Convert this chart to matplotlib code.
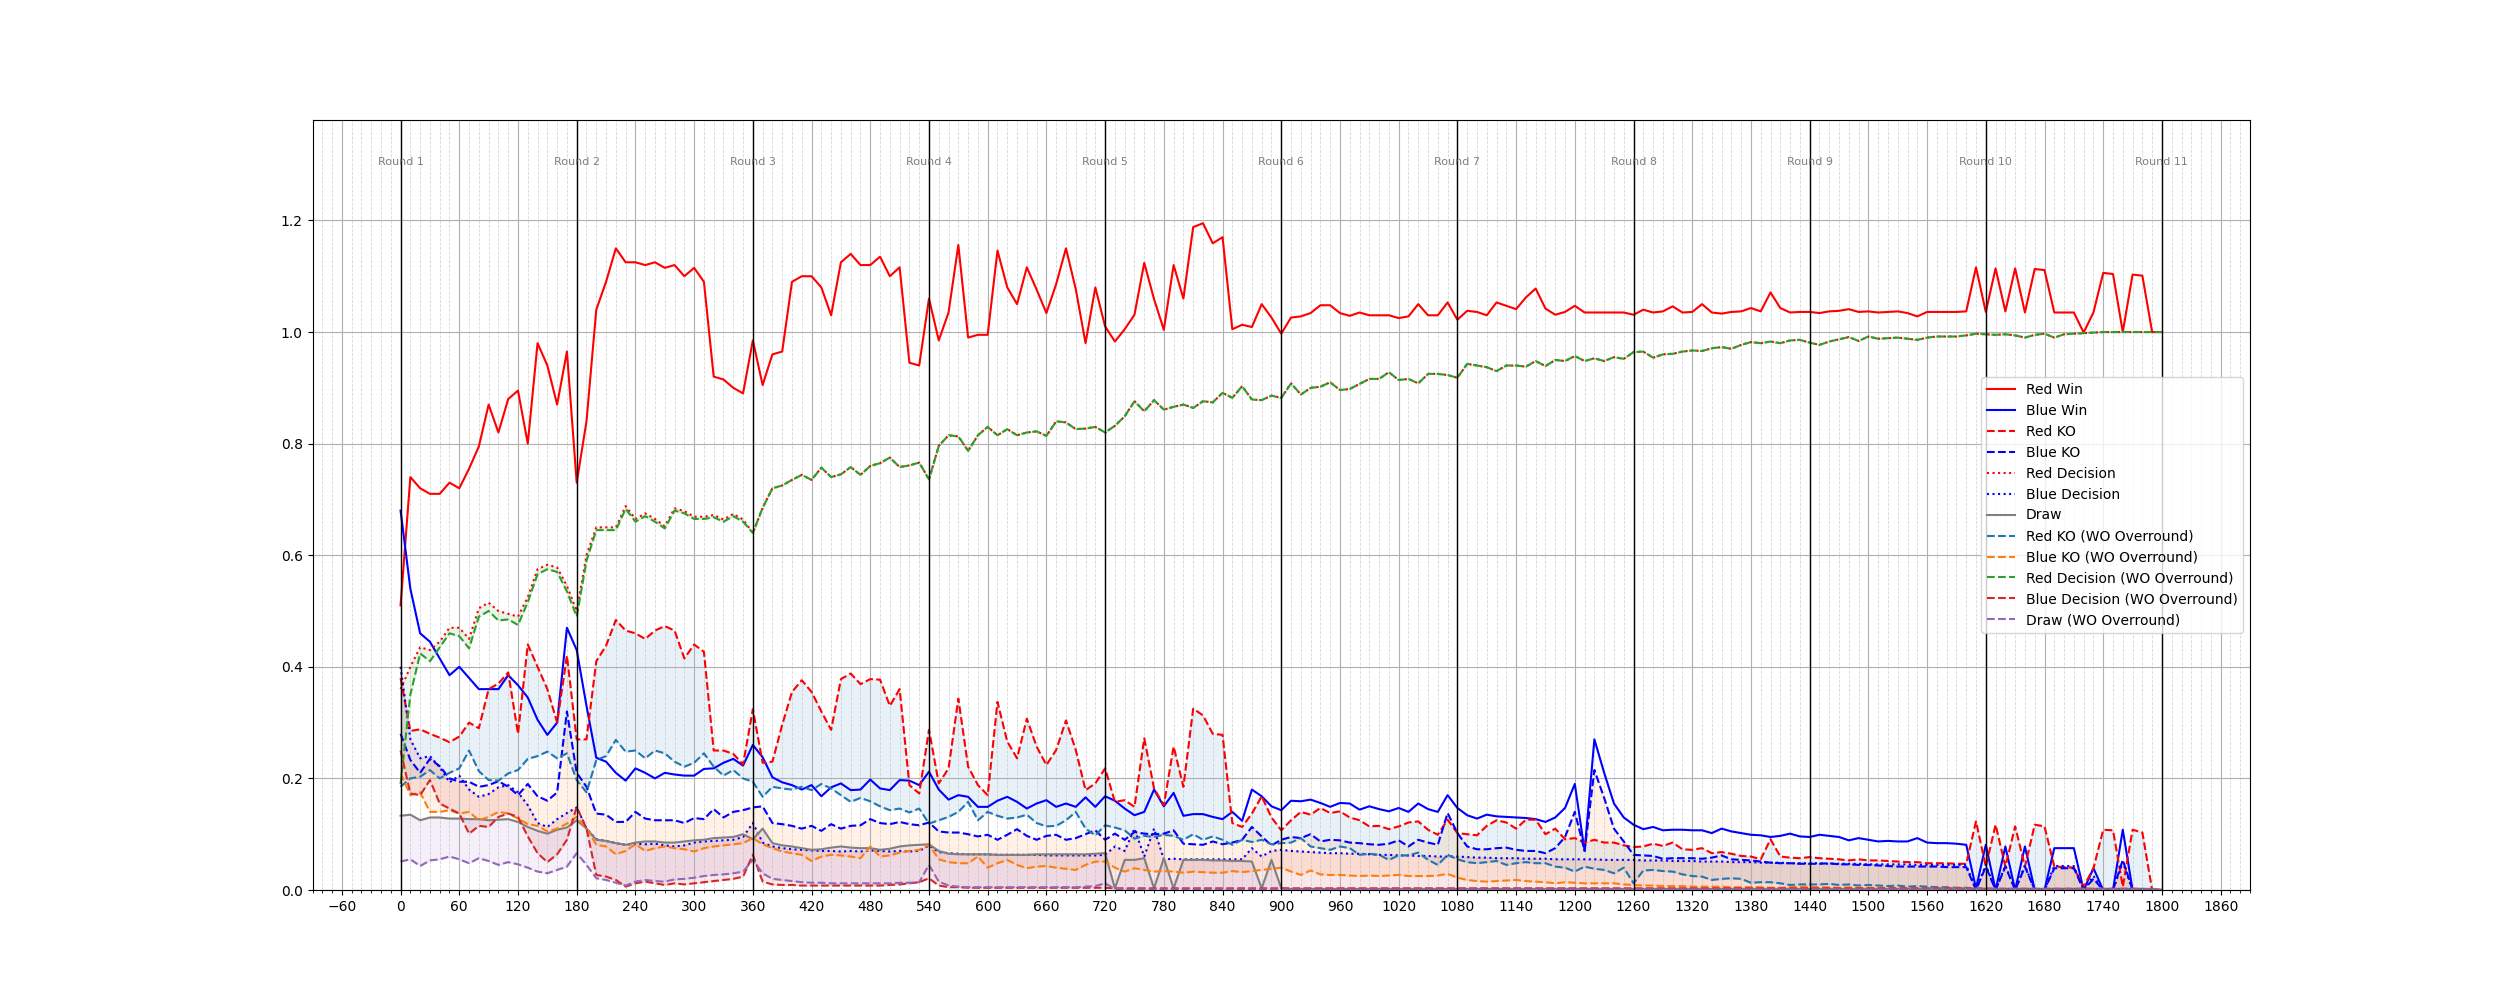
import numpy as np
import matplotlib
matplotlib.use("Agg")
import matplotlib.pyplot as plt
from matplotlib.ticker import MultipleLocator

# time axis (seconds), one sample every 10 s, 11 rounds of 180 s
seconds = np.arange(0, 1801, 10)
round_starts = [0, 180, 360, 540, 720, 900, 1080, 1260, 1440, 1620, 1800]

# implied probabilities (one row per round, 18 samples each, last value = 1800 s)
red_win = [
    0.51, 0.74, 0.72, 0.71, 0.71, 0.73, 0.72, 0.755, 0.795, 0.87, 0.82, 0.88, 0.895, 0.80, 0.98, 0.94, 0.87, 0.965,
    0.73, 0.84, 1.04, 1.09, 1.15, 1.125, 1.125, 1.12, 1.125, 1.115, 1.12, 1.10, 1.115, 1.09, 0.92, 0.915, 0.90, 0.89,
    0.985, 0.905, 0.96, 0.965, 1.09, 1.10, 1.10, 1.08, 1.03, 1.125, 1.14, 1.12, 1.12, 1.135, 1.10, 1.116, 0.945, 0.94,
    1.06, 0.985, 1.035, 1.156, 0.99, 0.995, 0.995, 1.146, 1.08, 1.05, 1.116, 1.076, 1.034, 1.086, 1.15, 1.077, 0.98, 1.08,
    1.01, 0.983, 1.005, 1.031, 1.124, 1.059, 1.004, 1.12, 1.06, 1.188, 1.195, 1.159, 1.17, 1.005, 1.013, 1.009, 1.05, 1.026,
    0.997, 1.026, 1.028, 1.034, 1.048, 1.048, 1.034, 1.029, 1.035, 1.03, 1.03, 1.03, 1.025, 1.028, 1.05, 1.03, 1.03, 1.053,
    1.022, 1.038, 1.036, 1.03, 1.053, 1.047, 1.041, 1.062, 1.078, 1.042, 1.031, 1.036, 1.047, 1.035, 1.035, 1.035, 1.035, 1.035,
    1.031, 1.04, 1.035, 1.037, 1.046, 1.035, 1.036, 1.05, 1.035, 1.033, 1.036, 1.037, 1.043, 1.037, 1.071, 1.043, 1.035, 1.036,
    1.036, 1.034, 1.037, 1.038, 1.041, 1.036, 1.037, 1.035, 1.036, 1.037, 1.034, 1.028, 1.036, 1.036, 1.036, 1.036, 1.037, 1.116,
    1.036, 1.114, 1.037, 1.114, 1.035, 1.113, 1.111, 1.035, 1.035, 1.035, 0.999, 1.035, 1.106, 1.104, 1.0, 1.103, 1.101, 1.0,
    1.0]

blue_win = [
    0.68, 0.54, 0.46, 0.445, 0.415, 0.385, 0.40, 0.38, 0.36, 0.36, 0.36, 0.385, 0.367, 0.345, 0.305, 0.278, 0.30, 0.47,
    0.43, 0.33, 0.237, 0.23, 0.21, 0.196, 0.218, 0.21, 0.20, 0.21, 0.207, 0.205, 0.205, 0.217, 0.218, 0.228, 0.235, 0.223,
    0.26, 0.238, 0.202, 0.193, 0.188, 0.18, 0.188, 0.168, 0.184, 0.191, 0.179, 0.18, 0.198, 0.182, 0.179, 0.197, 0.196, 0.188,
    0.212, 0.18, 0.162, 0.17, 0.167, 0.149, 0.149, 0.16, 0.167, 0.158, 0.146, 0.155, 0.161, 0.149, 0.155, 0.149, 0.166, 0.149,
    0.168, 0.16, 0.146, 0.134, 0.14, 0.18, 0.15, 0.174, 0.133, 0.136, 0.136, 0.131, 0.127, 0.14, 0.124, 0.18, 0.168, 0.15,
    0.143, 0.16, 0.159, 0.162, 0.156, 0.149, 0.156, 0.155, 0.144, 0.15, 0.145, 0.141, 0.147, 0.14, 0.155, 0.145, 0.14, 0.17,
    0.147, 0.134, 0.128, 0.135, 0.132, 0.131, 0.13, 0.129, 0.127, 0.122, 0.13, 0.147, 0.19, 0.07, 0.27, 0.21, 0.155, 0.13,
    0.117, 0.109, 0.113, 0.107, 0.108, 0.108, 0.107, 0.107, 0.102, 0.11, 0.105, 0.102, 0.099, 0.098, 0.095, 0.097, 0.101, 0.096,
    0.095, 0.099, 0.097, 0.095, 0.089, 0.093, 0.09, 0.087, 0.088, 0.087, 0.087, 0.093, 0.085, 0.084, 0.084, 0.083, 0.081, 0.003,
    0.081, 0.0, 0.078, 0.0, 0.078, 0.0, 0.0, 0.075, 0.075, 0.075, 0.0, 0.039, 0.0, 0.0, 0.108, 0.0, 0.0, 0.0,
    0.0]

red_ko = [
    0.38, 0.285, 0.288, 0.28, 0.273, 0.265, 0.275, 0.30, 0.29, 0.36, 0.37, 0.39, 0.28, 0.44, 0.40, 0.36, 0.30, 0.42,
    0.27, 0.27, 0.41, 0.438, 0.484, 0.465, 0.46, 0.45, 0.465, 0.473, 0.465, 0.415, 0.44, 0.427, 0.25, 0.25, 0.244, 0.225,
    0.324, 0.228, 0.23, 0.296, 0.355, 0.376, 0.355, 0.32, 0.287, 0.378, 0.388, 0.369, 0.378, 0.377, 0.33, 0.36, 0.188, 0.173,
    0.287, 0.191, 0.218, 0.343, 0.221, 0.188, 0.17, 0.337, 0.266, 0.236, 0.307, 0.257, 0.224, 0.251, 0.304, 0.251, 0.179, 0.191,
    0.218, 0.158, 0.161, 0.149, 0.272, 0.182, 0.152, 0.257, 0.185, 0.325, 0.313, 0.28, 0.278, 0.12, 0.113, 0.137, 0.168, 0.13,
    0.107, 0.125, 0.14, 0.135, 0.147, 0.138, 0.141, 0.13, 0.125, 0.114, 0.115, 0.109, 0.114, 0.121, 0.123, 0.108, 0.099, 0.126,
    0.102, 0.1, 0.098, 0.115, 0.125, 0.121, 0.11, 0.126, 0.126, 0.1, 0.11, 0.091, 0.093, 0.085, 0.09, 0.085, 0.085, 0.08,
    0.077, 0.078, 0.083, 0.079, 0.085, 0.073, 0.072, 0.075, 0.066, 0.068, 0.065, 0.061, 0.06, 0.055, 0.091, 0.06, 0.058, 0.057,
    0.059, 0.057, 0.056, 0.055, 0.053, 0.055, 0.053, 0.053, 0.052, 0.051, 0.05, 0.05, 0.048, 0.048, 0.048, 0.047, 0.047, 0.123,
    0.042, 0.117, 0.042, 0.114, 0.042, 0.117, 0.114, 0.042, 0.041, 0.04, 0.006, 0.039, 0.108, 0.107, 0.006, 0.108, 0.103, 0.0,
    0.0]

blue_ko = [
    0.28, 0.233, 0.21, 0.235, 0.222, 0.2, 0.194, 0.194, 0.185, 0.188, 0.195, 0.185, 0.17, 0.19, 0.168, 0.16, 0.175, 0.32,
    0.21, 0.185, 0.137, 0.135, 0.122, 0.122, 0.14, 0.128, 0.125, 0.125, 0.125, 0.12, 0.129, 0.127, 0.145, 0.13, 0.14, 0.143,
    0.148, 0.15, 0.12, 0.118, 0.115, 0.11, 0.115, 0.106, 0.118, 0.11, 0.115, 0.116, 0.127, 0.12, 0.118, 0.122, 0.118, 0.116,
    0.121, 0.105, 0.103, 0.103, 0.1, 0.096, 0.099, 0.09, 0.099, 0.109, 0.097, 0.09, 0.097, 0.099, 0.09, 0.093, 0.1, 0.107,
    0.09, 0.101, 0.09, 0.104, 0.101, 0.1, 0.101, 0.107, 0.083, 0.082, 0.081, 0.087, 0.082, 0.085, 0.09, 0.113, 0.096, 0.08,
    0.09, 0.095, 0.093, 0.1, 0.087, 0.09, 0.089, 0.085, 0.084, 0.082, 0.081, 0.083, 0.089, 0.078, 0.09, 0.085, 0.081, 0.138,
    0.102, 0.078, 0.073, 0.073, 0.075, 0.076, 0.072, 0.07, 0.07, 0.066, 0.075, 0.095, 0.14, 0.07, 0.215, 0.165, 0.11, 0.087,
    0.063, 0.062, 0.061, 0.056, 0.057, 0.057, 0.057, 0.056, 0.058, 0.062, 0.055, 0.054, 0.053, 0.051, 0.049, 0.048, 0.048, 0.047,
    0.047, 0.047, 0.048, 0.046, 0.046, 0.045, 0.045, 0.044, 0.043, 0.042, 0.042, 0.042, 0.042, 0.042, 0.041, 0.041, 0.041, 0.0,
    0.042, 0.0, 0.042, 0.0, 0.042, 0.0, 0.0, 0.039, 0.039, 0.039, 0.0, 0.02, 0.0, 0.0, 0.054, 0.0, 0.0, 0.0,
    0.0]

red_decision = [
    0.36, 0.40, 0.435, 0.43, 0.445, 0.47, 0.47, 0.45, 0.505, 0.515, 0.50, 0.495, 0.49, 0.525, 0.575, 0.583, 0.578, 0.545,
    0.50, 0.60, 0.65, 0.65, 0.65, 0.688, 0.665, 0.675, 0.665, 0.652, 0.684, 0.679, 0.669, 0.669, 0.672, 0.664, 0.674, 0.664,
    0.64, 0.685, 0.72, 0.725, 0.735, 0.744, 0.735, 0.757, 0.74, 0.745, 0.758, 0.744, 0.76, 0.765, 0.775, 0.758, 0.761, 0.766,
    0.736, 0.796, 0.815, 0.813, 0.787, 0.815, 0.83, 0.815, 0.826, 0.815, 0.82, 0.822, 0.814, 0.84, 0.838, 0.826, 0.827, 0.83,
    0.82, 0.832, 0.849, 0.876, 0.858, 0.878, 0.861, 0.866, 0.87, 0.864, 0.876, 0.874, 0.891, 0.882, 0.903, 0.879, 0.878, 0.886,
    0.882, 0.908, 0.888, 0.90, 0.902, 0.91, 0.896, 0.898, 0.907, 0.916, 0.916, 0.928, 0.914, 0.916, 0.908, 0.925, 0.925, 0.923,
    0.918, 0.943, 0.94, 0.937, 0.93, 0.94, 0.94, 0.938, 0.948, 0.939, 0.95, 0.948, 0.957, 0.948, 0.953, 0.948, 0.955, 0.952,
    0.964, 0.965, 0.954, 0.96, 0.961, 0.965, 0.967, 0.966, 0.971, 0.973, 0.97, 0.977, 0.982, 0.98, 0.983, 0.98, 0.985, 0.986,
    0.981, 0.977, 0.983, 0.987, 0.991, 0.984, 0.992, 0.988, 0.989, 0.99, 0.988, 0.986, 0.99, 0.992, 0.992, 0.992, 0.994, 0.997,
    0.996, 0.995, 0.996, 0.994, 0.99, 0.995, 0.997, 0.99, 0.996, 0.997, 0.998, 0.999, 1.0, 1.0, 1.0, 1.0, 1.0, 1.0,
    1.0]

blue_decision = [
    0.40, 0.27, 0.236, 0.24, 0.22, 0.193, 0.205, 0.18, 0.167, 0.172, 0.184, 0.188, 0.175, 0.152, 0.12, 0.113, 0.127, 0.138,
    0.148, 0.11, 0.091, 0.088, 0.084, 0.081, 0.083, 0.082, 0.083, 0.08, 0.078, 0.08, 0.085, 0.087, 0.088, 0.089, 0.09, 0.095,
    0.12, 0.085, 0.078, 0.075, 0.073, 0.072, 0.071, 0.07, 0.07, 0.069, 0.07, 0.069, 0.071, 0.07, 0.069, 0.07, 0.069, 0.07,
    0.08, 0.068, 0.066, 0.065, 0.064, 0.064, 0.064, 0.063, 0.063, 0.063, 0.063, 0.063, 0.062, 0.062, 0.062, 0.062, 0.062, 0.062,
    0.063, 0.078, 0.07, 0.11, 0.06, 0.11, 0.055, 0.056, 0.055, 0.055, 0.055, 0.055, 0.055, 0.055, 0.055, 0.075, 0.06, 0.07,
    0.072, 0.07, 0.069, 0.068, 0.067, 0.066, 0.066, 0.065, 0.065, 0.064, 0.063, 0.063, 0.062, 0.062, 0.061, 0.061, 0.06, 0.06,
    0.06, 0.059, 0.058, 0.058, 0.057, 0.057, 0.057, 0.056, 0.056, 0.056, 0.055, 0.055, 0.055, 0.055, 0.055, 0.054, 0.054, 0.054,
    0.054, 0.053, 0.053, 0.053, 0.052, 0.052, 0.052, 0.051, 0.051, 0.051, 0.05, 0.05, 0.05, 0.049, 0.049, 0.049, 0.048, 0.048,
    0.048, 0.048, 0.047, 0.047, 0.047, 0.047, 0.046, 0.046, 0.046, 0.046, 0.046, 0.045, 0.045, 0.045, 0.045, 0.045, 0.045, 0.0,
    0.045, 0.0, 0.044, 0.0, 0.044, 0.0, 0.0, 0.043, 0.043, 0.043, 0.0, 0.025, 0.0, 0.0, 0.05, 0.0, 0.0, 0.0,
    0.0]

draw = [
    0.133, 0.135, 0.125, 0.13, 0.13, 0.128, 0.128, 0.127, 0.127, 0.125, 0.126, 0.127, 0.122, 0.113, 0.106, 0.101, 0.108, 0.112,
    0.125, 0.11, 0.09, 0.088, 0.084, 0.081, 0.085, 0.087, 0.087, 0.085, 0.085, 0.087, 0.089, 0.09, 0.093, 0.094, 0.095, 0.1,
    0.091, 0.11, 0.084, 0.08, 0.078, 0.075, 0.072, 0.073, 0.076, 0.078, 0.076, 0.075, 0.075, 0.072, 0.074, 0.078, 0.08, 0.081,
    0.082, 0.07, 0.065, 0.064, 0.064, 0.064, 0.064, 0.063, 0.063, 0.063, 0.063, 0.064, 0.064, 0.064, 0.064, 0.064, 0.064, 0.065,
    0.066, 0.003, 0.054, 0.054, 0.057, 0.003, 0.057, 0.003, 0.054, 0.054, 0.054, 0.053, 0.053, 0.052, 0.052, 0.051, 0.003, 0.054,
    0.003, 0.002, 0.002, 0.002, 0.002, 0.002, 0.002, 0.002, 0.002, 0.002, 0.002, 0.002, 0.002, 0.002, 0.002, 0.002, 0.002, 0.002,
    0.002, 0.002, 0.002, 0.002, 0.002, 0.002, 0.002, 0.002, 0.002, 0.002, 0.002, 0.002, 0.002, 0.002, 0.002, 0.002, 0.002, 0.002,
    0.002, 0.002, 0.002, 0.002, 0.002, 0.002, 0.002, 0.002, 0.002, 0.002, 0.002, 0.002, 0.002, 0.002, 0.002, 0.002, 0.002, 0.002,
    0.002, 0.002, 0.002, 0.002, 0.002, 0.002, 0.002, 0.002, 0.002, 0.002, 0.002, 0.002, 0.002, 0.002, 0.002, 0.002, 0.002, 0.002,
    0.002, 0.002, 0.002, 0.002, 0.002, 0.002, 0.002, 0.002, 0.002, 0.002, 0.002, 0.002, 0.002, 0.002, 0.002, 0.002, 0.002, 0.002,
    0.0]

# same outcomes with the bookmaker overround removed
red_ko_wo = [
    0.185, 0.2, 0.203, 0.215, 0.2, 0.21, 0.218, 0.25, 0.213, 0.197, 0.196, 0.209, 0.215, 0.235, 0.24, 0.248, 0.236, 0.245,
    0.197, 0.175, 0.233, 0.24, 0.269, 0.248, 0.25, 0.236, 0.25, 0.245, 0.23, 0.221, 0.228, 0.245, 0.221, 0.205, 0.215, 0.2,
    0.194, 0.167, 0.185, 0.182, 0.18, 0.185, 0.179, 0.19, 0.182, 0.17, 0.158, 0.165, 0.159, 0.15, 0.143, 0.146, 0.139, 0.146,
    0.119, 0.125, 0.131, 0.14, 0.158, 0.125, 0.14, 0.133, 0.128, 0.13, 0.135, 0.12, 0.114, 0.115, 0.125, 0.14, 0.11, 0.098,
    0.116, 0.112, 0.107, 0.092, 0.097, 0.095, 0.099, 0.097, 0.09, 0.1, 0.09, 0.096, 0.09, 0.081, 0.09, 0.086, 0.09, 0.082,
    0.084, 0.085, 0.093, 0.078, 0.075, 0.072, 0.078, 0.075, 0.063, 0.065, 0.063, 0.054, 0.062, 0.062, 0.067, 0.054, 0.045, 0.063,
    0.055, 0.05, 0.048, 0.05, 0.052, 0.045, 0.048, 0.05, 0.048, 0.048, 0.042, 0.04, 0.033, 0.042, 0.038, 0.036, 0.03, 0.04,
    0.012, 0.035, 0.036, 0.034, 0.033, 0.028, 0.025, 0.024, 0.018, 0.02, 0.021, 0.02, 0.013, 0.014, 0.014, 0.012, 0.009, 0.01,
    0.01, 0.01, 0.011, 0.009, 0.01, 0.008, 0.009, 0.008, 0.007, 0.008, 0.006, 0.007, 0.006, 0.005, 0.005, 0.004, 0.004, 0.003,
    0.003, 0.002, 0.002, 0.002, 0.002, 0.002, 0.002, 0.002, 0.002, 0.002, 0.002, 0.002, 0.002, 0.002, 0.002, 0.002, 0.002, 0.001,
    0.0]

blue_ko_wo = [
    0.209, 0.17, 0.175, 0.14, 0.14, 0.143, 0.137, 0.14, 0.125, 0.131, 0.14, 0.137, 0.128, 0.118, 0.115, 0.105, 0.11, 0.119,
    0.131, 0.11, 0.081, 0.078, 0.064, 0.07, 0.082, 0.07, 0.075, 0.078, 0.075, 0.073, 0.069, 0.075, 0.078, 0.08, 0.082, 0.084,
    0.093, 0.082, 0.075, 0.069, 0.066, 0.063, 0.052, 0.06, 0.063, 0.062, 0.06, 0.057, 0.078, 0.06, 0.062, 0.067, 0.07, 0.072,
    0.081, 0.055, 0.05, 0.048, 0.048, 0.06, 0.04, 0.048, 0.054, 0.045, 0.039, 0.042, 0.043, 0.04, 0.038, 0.036, 0.045, 0.051,
    0.051, 0.04, 0.033, 0.039, 0.036, 0.033, 0.034, 0.033, 0.031, 0.033, 0.032, 0.031, 0.031, 0.034, 0.032, 0.034, 0.036, 0.038,
    0.04, 0.033, 0.027, 0.035, 0.028, 0.027, 0.027, 0.026, 0.025, 0.026, 0.025, 0.026, 0.027, 0.025, 0.025, 0.025, 0.026, 0.029,
    0.022, 0.018, 0.016, 0.015, 0.016, 0.017, 0.018, 0.016, 0.015, 0.014, 0.012, 0.014, 0.013, 0.012, 0.012, 0.012, 0.012, 0.01,
    0.009, 0.008, 0.008, 0.007, 0.007, 0.007, 0.006, 0.006, 0.006, 0.006, 0.005, 0.005, 0.005, 0.005, 0.004, 0.004, 0.005, 0.006,
    0.006, 0.005, 0.005, 0.004, 0.005, 0.004, 0.004, 0.004, 0.003, 0.004, 0.003, 0.003, 0.003, 0.003, 0.003, 0.003, 0.003, 0.002,
    0.002, 0.002, 0.002, 0.002, 0.002, 0.002, 0.002, 0.002, 0.002, 0.002, 0.002, 0.002, 0.002, 0.002, 0.002, 0.002, 0.002, 0.001,
    0.0]

red_decision_wo = [
    0.19, 0.35, 0.424, 0.41, 0.435, 0.46, 0.455, 0.433, 0.49, 0.50, 0.483, 0.485, 0.475, 0.516, 0.566, 0.575, 0.57, 0.535,
    0.49, 0.59, 0.645, 0.645, 0.645, 0.683, 0.66, 0.67, 0.66, 0.648, 0.68, 0.675, 0.665, 0.665, 0.668, 0.66, 0.67, 0.66,
    0.64, 0.685, 0.72, 0.725, 0.735, 0.744, 0.735, 0.757, 0.74, 0.745, 0.758, 0.744, 0.76, 0.765, 0.775, 0.758, 0.761, 0.766,
    0.736, 0.796, 0.815, 0.813, 0.787, 0.815, 0.83, 0.815, 0.826, 0.815, 0.82, 0.822, 0.814, 0.84, 0.838, 0.826, 0.827, 0.83,
    0.82, 0.832, 0.849, 0.876, 0.858, 0.878, 0.861, 0.866, 0.87, 0.864, 0.876, 0.874, 0.891, 0.882, 0.903, 0.879, 0.878, 0.886,
    0.882, 0.908, 0.888, 0.90, 0.902, 0.91, 0.896, 0.898, 0.907, 0.916, 0.916, 0.928, 0.914, 0.916, 0.908, 0.925, 0.925, 0.923,
    0.918, 0.943, 0.94, 0.937, 0.93, 0.94, 0.94, 0.938, 0.948, 0.939, 0.95, 0.948, 0.957, 0.948, 0.953, 0.948, 0.955, 0.952,
    0.964, 0.965, 0.954, 0.96, 0.961, 0.965, 0.967, 0.966, 0.971, 0.973, 0.97, 0.977, 0.982, 0.98, 0.983, 0.98, 0.985, 0.986,
    0.981, 0.977, 0.983, 0.987, 0.991, 0.984, 0.992, 0.988, 0.989, 0.99, 0.988, 0.986, 0.99, 0.992, 0.992, 0.992, 0.994, 0.997,
    0.996, 0.995, 0.996, 0.994, 0.99, 0.995, 0.997, 0.99, 0.996, 0.997, 0.998, 0.999, 1.0, 1.0, 1.0, 1.0, 1.0, 1.0,
    1.0]

blue_decision_wo = [
    0.25, 0.173, 0.17, 0.197, 0.155, 0.146, 0.137, 0.101, 0.115, 0.113, 0.131, 0.137, 0.131, 0.096, 0.066, 0.05, 0.064, 0.09,
    0.149, 0.11, 0.027, 0.024, 0.018, 0.006, 0.012, 0.015, 0.012, 0.009, 0.012, 0.01, 0.012, 0.014, 0.016, 0.018, 0.02, 0.024,
    0.063, 0.015, 0.01, 0.009, 0.009, 0.008, 0.008, 0.008, 0.008, 0.008, 0.008, 0.008, 0.008, 0.008, 0.009, 0.01, 0.012, 0.014,
    0.021, 0.008, 0.005, 0.005, 0.004, 0.004, 0.004, 0.004, 0.004, 0.004, 0.004, 0.004, 0.004, 0.004, 0.004, 0.004, 0.004, 0.004,
    0.004, 0.003, 0.003, 0.003, 0.003, 0.003, 0.003, 0.003, 0.003, 0.003, 0.003, 0.003, 0.003, 0.003, 0.003, 0.003, 0.003, 0.003,
    0.003, 0.003, 0.003, 0.003, 0.003, 0.003, 0.003, 0.003, 0.003, 0.003, 0.003, 0.003, 0.003, 0.003, 0.003, 0.003, 0.003, 0.003,
    0.003, 0.003, 0.003, 0.003, 0.003, 0.003, 0.003, 0.003, 0.003, 0.003, 0.003, 0.003, 0.003, 0.003, 0.003, 0.003, 0.003, 0.003,
    0.003, 0.003, 0.003, 0.003, 0.003, 0.003, 0.003, 0.003, 0.003, 0.003, 0.003, 0.003, 0.003, 0.003, 0.003, 0.003, 0.003, 0.003,
    0.003, 0.003, 0.003, 0.003, 0.003, 0.003, 0.003, 0.003, 0.003, 0.003, 0.003, 0.003, 0.003, 0.003, 0.003, 0.003, 0.003, 0.002,
    0.002, 0.002, 0.002, 0.002, 0.002, 0.002, 0.002, 0.002, 0.002, 0.002, 0.002, 0.002, 0.002, 0.002, 0.002, 0.002, 0.002, 0.001,
    0.0]

draw_wo = [
    0.051, 0.055, 0.043, 0.053, 0.055, 0.06, 0.055, 0.048, 0.057, 0.052, 0.045, 0.05, 0.046, 0.04, 0.033, 0.03, 0.036, 0.042,
    0.066, 0.045, 0.021, 0.018, 0.013, 0.008, 0.015, 0.018, 0.016, 0.015, 0.019, 0.02, 0.022, 0.025, 0.027, 0.028, 0.03, 0.033,
    0.054, 0.03, 0.02, 0.018, 0.016, 0.014, 0.013, 0.013, 0.012, 0.012, 0.012, 0.012, 0.012, 0.012, 0.012, 0.013, 0.013, 0.014,
    0.045, 0.015, 0.008, 0.006, 0.005, 0.005, 0.005, 0.005, 0.005, 0.005, 0.005, 0.005, 0.005, 0.005, 0.005, 0.005, 0.006, 0.007,
    0.012, 0.002, 0.001, 0.001, 0.001, 0.001, 0.001, 0.001, 0.001, 0.001, 0.001, 0.001, 0.001, 0.001, 0.001, 0.001, 0.001, 0.001,
    0.001, 0.001, 0.001, 0.001, 0.001, 0.001, 0.001, 0.001, 0.001, 0.001, 0.001, 0.001, 0.001, 0.001, 0.001, 0.001, 0.001, 0.001,
    0.001, 0.001, 0.001, 0.001, 0.001, 0.001, 0.001, 0.001, 0.001, 0.001, 0.001, 0.001, 0.001, 0.001, 0.001, 0.001, 0.001, 0.001,
    0.001, 0.001, 0.001, 0.001, 0.001, 0.001, 0.001, 0.001, 0.001, 0.001, 0.001, 0.001, 0.001, 0.001, 0.001, 0.001, 0.001, 0.001,
    0.001, 0.001, 0.001, 0.001, 0.001, 0.001, 0.001, 0.001, 0.001, 0.001, 0.001, 0.001, 0.001, 0.001, 0.001, 0.001, 0.001, 0.001,
    0.001, 0.001, 0.001, 0.001, 0.001, 0.001, 0.001, 0.001, 0.001, 0.001, 0.001, 0.001, 0.001, 0.001, 0.001, 0.001, 0.001, 0.001,
    0.0]

# sanity check on the hand-typed lists
for name, values in [("red_win", red_win), ("blue_win", blue_win), ("red_ko", red_ko),
                     ("blue_ko", blue_ko), ("red_decision", red_decision),
                     ("blue_decision", blue_decision), ("draw", draw),
                     ("red_ko_wo", red_ko_wo), ("blue_ko_wo", blue_ko_wo),
                     ("red_decision_wo", red_decision_wo),
                     ("blue_decision_wo", blue_decision_wo), ("draw_wo", draw_wo)]:
    if len(values) != len(seconds):
        raise ValueError(f"{name}: {len(values)} values, expected {len(seconds)}")

fig, ax = plt.subplots(figsize=(25, 10))

# raw odds
ax.plot(seconds, red_win, 'r', label='Red Win')
ax.plot(seconds, blue_win, 'b', label='Blue Win')
ax.plot(seconds, red_ko, 'r--', label='Red KO')
ax.plot(seconds, blue_ko, 'b--', label='Blue KO')
ax.plot(seconds, red_decision, 'r:', label='Red Decision')
ax.plot(seconds, blue_decision, 'b:', label='Blue Decision')
ax.plot(seconds, draw, color='gray', label='Draw')

# without overround (default colour cycle)
ax.plot(seconds, red_ko_wo, '--', label='Red KO (WO Overround)')
ax.plot(seconds, blue_ko_wo, '--', label='Blue KO (WO Overround)')
ax.plot(seconds, red_decision_wo, '--', label='Red Decision (WO Overround)')
ax.plot(seconds, blue_decision_wo, '--', label='Blue Decision (WO Overround)')
ax.plot(seconds, draw_wo, '--', label='Draw (WO Overround)')

# shade the overround of every outcome
ax.fill_between(seconds, red_ko, red_ko_wo, color='tab:blue', alpha=0.1)
ax.fill_between(seconds, blue_ko, blue_ko_wo, color='tab:orange', alpha=0.1)
ax.fill_between(seconds, red_decision, red_decision_wo, color='tab:green', alpha=0.1)
ax.fill_between(seconds, blue_decision, blue_decision_wo, color='tab:red', alpha=0.1)
ax.fill_between(seconds, draw, draw_wo, color='tab:purple', alpha=0.1)

# round markers
for i, start in enumerate(round_starts):
    ax.axvline(start, color='black', linewidth=1)
    ax.text(start, 1.3, f"Round {i + 1}", ha='center', color='gray', fontsize=8)

ax.set_xlim(-90, 1890)
ax.set_ylim(0, 1.38)
ax.xaxis.set_major_locator(MultipleLocator(60))
ax.xaxis.set_minor_locator(MultipleLocator(10))
ax.grid(True, which='major')
ax.grid(True, which='minor', axis='x', linestyle='--', linewidth=0.6, alpha=0.5)
ax.legend(loc='center right')

plt.savefig("out.png", dpi=100)
